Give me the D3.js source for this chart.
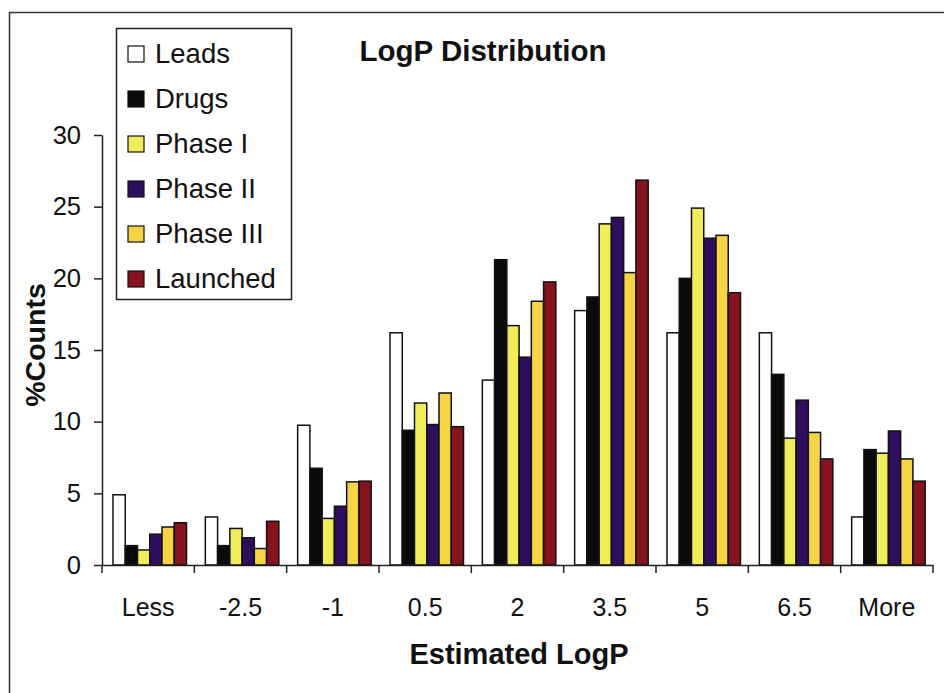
<!DOCTYPE html>
<html>
<head>
<meta charset="utf-8">
<script src="https://cdn.jsdelivr.net/npm/d3@7/dist/d3.min.js"></script>
<style>
  html, body { margin: 0; padding: 0; background: #fff; }
  svg { display: block; font-family: "Liberation Sans", Arial, sans-serif; }
</style>
</head>
<body>
<svg id="chart" width="944" height="693"></svg>
<script>
const categories = ["Less", "-2.5", "-1", "0.5", "2", "3.5", "5", "6.5", "More"];
const seriesNames = ["Leads", "Drugs", "Phase I", "Phase II", "Phase III", "Launched"];
const leads    = [4.9, 3.35, 9.75, 16.2, 12.9, 17.75, 16.2, 16.2, 3.35];
const drugs    = [1.35, 1.35, 6.75, 9.4, 21.3, 18.7, 20.0, 13.3, 8.05];
const phase1   = [1.05, 2.55, 3.25, 11.3, 16.7, 23.8, 24.9, 8.85, 7.8];
const phase2   = [2.15, 1.9, 4.1, 9.8, 14.5, 24.25, 22.8, 11.5, 9.35];
const phase3   = [2.65, 1.15, 5.8, 12.0, 18.4, 20.4, 23.0, 9.25, 7.4];
const launched = [2.95, 3.05, 5.85, 9.65, 19.75, 26.85, 19.0, 7.4, 5.85];
const yTicks = [0, 5, 10, 15, 20, 25, 30];
const colors = ["#ffffff", "#0a0a0a", "#f0ec5a", "#2d0f5e", "#f5d446", "#85141f"];

const seriesValues = [leads, drugs, phase1, phase2, phase3, launched];
const svg = d3.select("#chart");

// outer frame
svg.append("rect").attr("x", 9.5).attr("y", 12.5).attr("width", 960).attr("height", 720)
  .attr("fill", "none").attr("stroke", "#333").attr("stroke-width", 1.5);

const x = d3.scaleBand().domain(categories).range([102, 933]).padding(0);
const x1 = d3.scaleBand().domain(seriesNames).range([11, 84.5]).padding(0);
const y = d3.scaleLinear().domain([0, 30]).range([565, 135]);

// bars
const groups = svg.append("g").selectAll("g").data(categories).join("g")
  .attr("transform", d => `translate(${x(d)},0)`);
groups.selectAll("rect")
  .data((c, i) => seriesNames.map((s, j) => ({ s, j, v: seriesValues[j][i] })))
  .join("rect")
  .attr("x", d => x1(d.s))
  .attr("y", d => y(d.v))
  .attr("width", x1.bandwidth())
  .attr("height", d => y(0) - y(d.v))
  .attr("fill", d => colors[d.j])
  .attr("stroke", "#111")
  .attr("stroke-width", 1.5);

// y axis
const yAxis = svg.append("g").attr("transform", "translate(102,0)")
  .call(d3.axisLeft(y).tickValues(yTicks).tickSize(8).tickSizeOuter(0).tickPadding(13));
yAxis.select(".domain").attr("stroke", "#222").attr("stroke-width", 1.5);
yAxis.selectAll(".tick line").attr("stroke", "#222").attr("stroke-width", 1.5);
yAxis.selectAll(".tick text").attr("font-size", 25.5).attr("fill", "#111")
  .attr("font-family", "'Liberation Sans', Arial, sans-serif");

// x axis
const xAxis = svg.append("g").attr("transform", "translate(0,565)")
  .call(d3.axisBottom(x).tickSize(0).tickSizeOuter(0).tickPadding(33));
xAxis.select(".domain").attr("stroke", "#222").attr("stroke-width", 1.5);
xAxis.selectAll(".tick text").attr("font-size", 25).attr("fill", "#111")
  .attr("font-family", "'Liberation Sans', Arial, sans-serif");
const bounds = categories.map(c => x(c)).concat([x(categories[categories.length - 1]) + x.bandwidth()]);
xAxis.selectAll("line.bound").data(bounds).join("line").attr("class", "bound")
  .attr("x1", d => d).attr("x2", d => d).attr("y1", 0).attr("y2", 8)
  .attr("stroke", "#222").attr("stroke-width", 1.5);

// titles
svg.append("text").attr("x", 483).attr("y", 61).attr("text-anchor", "middle")
  .attr("font-size", 29.5).attr("font-weight", "bold").attr("fill", "#111").text("LogP Distribution");
svg.append("text").attr("x", 519).attr("y", 664).attr("text-anchor", "middle")
  .attr("font-size", 29).attr("font-weight", "bold").attr("fill", "#111").text("Estimated LogP");
svg.append("text").attr("transform", "translate(45,345) rotate(-90)").attr("text-anchor", "middle")
  .attr("font-size", 28.5).attr("font-weight", "bold").attr("fill", "#111").text("%Counts");

// legend
const lg = svg.append("g");
lg.append("rect").attr("x", 116.5).attr("y", 28.5).attr("width", 175).attr("height", 271)
  .attr("fill", "#fff").attr("stroke", "#222").attr("stroke-width", 1.5);
const items = lg.selectAll("g.item").data(seriesNames).join("g").attr("class", "item")
  .attr("transform", (d, i) => `translate(0,${63 + i * 45})`);
items.append("rect").attr("x", 128).attr("y", -17).attr("width", 16).attr("height", 16)
  .attr("fill", (d, i) => colors[i]).attr("stroke", "#111").attr("stroke-width", 1.2);
items.append("text").attr("x", 155).attr("y", 0).attr("font-size", 27.5).attr("fill", "#111")
  .text(d => d);
</script>
</body>
</html>
